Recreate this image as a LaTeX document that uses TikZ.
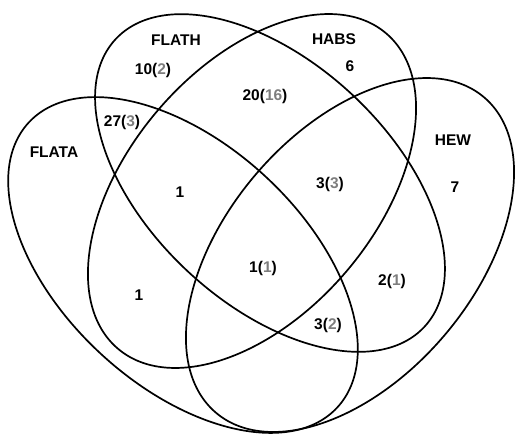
\documentclass[tikz,border=0pt]{standalone}
\usepackage{fontspec}
\setmainfont{Liberation Sans}
\definecolor{numgray}{RGB}{125,125,125}
\newcommand\gn[1]{\textcolor{numgray}{#1}}
\begin{document}
\begin{tikzpicture}[x=1pt,y=-1pt,
  venn/.style={line width=1.7pt, draw=black},
  lbl/.style={font=\fontsize{15.5}{18}\selectfont\bfseries, inner sep=0pt, anchor=base}]
\useasboundingbox (0,0) rectangle (515,434);
% sets
\draw[venn, rotate around={-42.7:(183,265)}] (183,265) ellipse [x radius=210pt, y radius=121pt];
\draw[venn, rotate around={-43:(270,183)}] (270,183) ellipse [x radius=211pt, y radius=120.7pt];
\draw[venn, rotate around={49.6:(252,191)}] (252,191) ellipse [x radius=207pt, y radius=124pt];
\draw[venn, rotate around={49.6:(350,255)}] (350,255) ellipse [x radius=207pt, y radius=124pt];
% set names
\node[lbl] (tflata) at (54,157.5) {FLATA};
\node[lbl] (tflath) at (176,45.5) {FLATH};
\node[lbl] (thabs) at (334,44.5) {HABS};
\node[lbl] (thew) at (453,145.5) {HEW};
% counts
\node[lbl] (n1) at (153,74.5) {10(\gn{2})};
\node[lbl] (n2) at (350,71.5) {6};
\node[lbl] (n3) at (122,126.5) {27(\gn{3})};
\node[lbl] (n4) at (265,100.5) {20(\gn{16})};
\node[lbl] (n5) at (180,197.5) {1};
\node[lbl] (n6) at (330,188.5) {3(\gn{3})};
\node[lbl] (n7) at (455,192.5) {7};
\node[lbl] (n8) at (263,272.5) {1(\gn{1})};
\node[lbl] (n9) at (139,300.5) {1};
\node[lbl] (n10) at (392,285.5) {2(\gn{1})};
\node[lbl] (n11) at (328,329.5) {3(\gn{2})};
\end{tikzpicture}
\end{document}
